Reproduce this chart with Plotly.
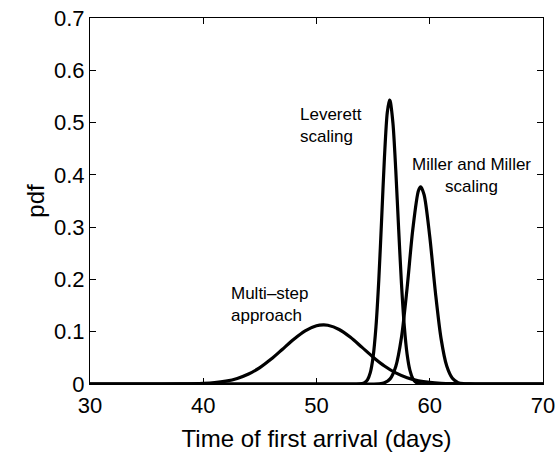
import plotly.graph_objects as go

# Multi-step approach curve
ms_x = [30, 35, 38, 40, 41, 42, 43, 44, 45, 46, 47, 48, 49, 50, 50.6, 51, 52, 53, 54, 55, 56, 57, 58, 59, 60, 61, 62, 63, 64, 66, 70]
ms_y = [0, 0, 0.0002, 0.0012, 0.0026, 0.0055, 0.0107, 0.0191, 0.0314, 0.0476, 0.0666, 0.0858, 0.1018, 0.1113, 0.1130,
        0.1123, 0.1043, 0.0893, 0.0705, 0.0513, 0.0344, 0.0212, 0.0121, 0.0063, 0.0031, 0.0014, 0.0006, 0.0002, 0, 0, 0]

# Leverett scaling curve
lv_x = [30, 50, 53.5, 54.0, 54.25, 54.5, 54.75, 55.0, 55.25, 55.5, 55.75, 56.0, 56.25, 56.45, 56.5, 56.75, 57.0,
        57.25, 57.5, 57.75, 58.0, 58.25, 58.5, 58.75, 59.0, 59.5, 65, 70]
lv_y = [0, 0, 0, 0.0007, 0.0025, 0.0079, 0.0217, 0.0522, 0.1092, 0.1988, 0.3146, 0.4333, 0.5193, 0.5430, 0.5417, 0.4990,
        0.4089, 0.2978, 0.1930, 0.1112, 0.0570, 0.0260, 0.0105, 0.0038, 0.0012, 0, 0, 0]

# Miller and Miller scaling curve
mm_x = [30, 50, 55.0, 55.5, 56.0, 56.5, 57.0, 57.5, 58.0, 58.5, 59.0, 59.2, 59.5, 60.0, 60.5, 61.0, 61.5, 62.0,
        62.5, 63.0, 63.5, 66, 70]
mm_y = [0, 0, 0, 0.0004, 0.0023, 0.0098, 0.0335, 0.0889, 0.1835, 0.2951, 0.3695, 0.3770, 0.3619, 0.2820, 0.1752,
        0.0868, 0.0342, 0.0108, 0.0027, 0.0005, 0, 0, 0]

x_ticks = [30, 40, 50, 60, 70]
y_ticks = [0, 0.1, 0.2, 0.3, 0.4, 0.5, 0.6, 0.7]
y_tick_text = ["0", "0.1", "0.2", "0.3", "0.4", "0.5", "0.6", "0.7"]

FONT = "Liberation Sans, Arial, Helvetica, sans-serif"

fig = go.Figure()
for xs, ys in [(ms_x, ms_y), (lv_x, lv_y), (mm_x, mm_y)]:
    fig.add_trace(go.Scatter(x=xs, y=ys, mode="lines",
                             line=dict(color="black", width=3.2, shape="spline", smoothing=0.8),
                             showlegend=False, hoverinfo="skip", cliponaxis=False))

ann_font = dict(family=FONT, size=17, color="black")
fig.add_annotation(x=48.37, y=0.495, xref="x", yref="y", text="Leverett<br>scaling",
                   showarrow=False, xanchor="left", yanchor="middle", align="left", font=ann_font)
fig.add_annotation(x=63.73, y=0.398, xref="x", yref="y", text="Miller and Miller<br>scaling",
                   showarrow=False, xanchor="center", yanchor="middle", align="center", font=ann_font)
fig.add_annotation(x=42.27, y=0.153, xref="x", yref="y", text="Multi\u2013step<br>approach",
                   showarrow=False, xanchor="left", yanchor="middle", align="left", font=ann_font)

axis_common = dict(showgrid=False, zeroline=False, showline=True, linecolor="black", linewidth=1.2,
                   mirror="ticks", ticks="inside", ticklen=6, tickwidth=1, tickcolor="black",
                   automargin=False,
                   tickfont=dict(family=FONT, size=22, color="black"))

fig.update_xaxes(range=[30, 70], tickvals=x_ticks, ticktext=[str(v) for v in x_ticks],
                 ticklabelstandoff=1,
                 title=dict(text="Time of first arrival (days)", font=dict(family=FONT, size=24, color="black"),
                            standoff=13),
                 **axis_common)
fig.update_yaxes(range=[0, 0.7], tickvals=y_ticks, ticktext=y_tick_text,
                 title=dict(text="pdf", font=dict(family=FONT, size=24, color="black"), standoff=2),
                 **axis_common)

fig.update_layout(width=557, height=452, margin=dict(l=90, r=14, t=18, b=68, pad=0),
                  plot_bgcolor="white", paper_bgcolor="white")

fig.write_html("out.html")
